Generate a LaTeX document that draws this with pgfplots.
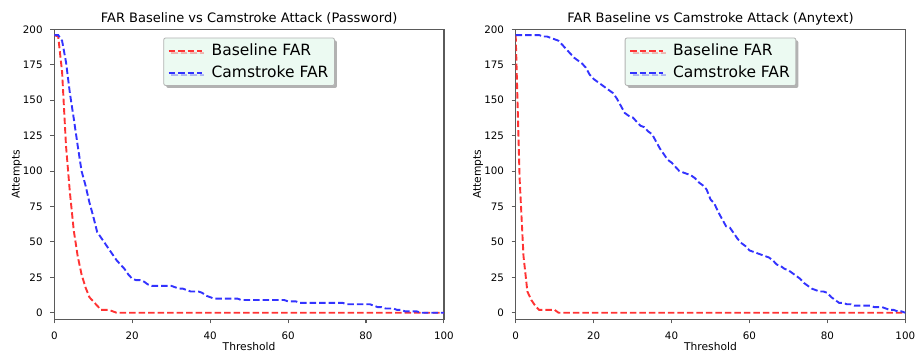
\documentclass[border=0pt]{standalone}
\usepackage{fontspec}
\setmainfont{DejaVu Sans}
\usepackage{pgfplots}
\pgfplotsset{compat=1.18}
\usetikzlibrary{shadows}
\definecolor{farred}{RGB}{255,51,51}
\definecolor{farblue}{RGB}{51,51,255}
\definecolor{legbg}{RGB}{236,250,242}
\definecolor{spine}{RGB}{90,90,90}

\pgfplotstableread{
t base cam
0 196 196
1 195 196
2 170 192
3 118 177
4 85 155
5 58 137
6 40 118
7 27 100
8 18 90
9 11 78
10 8 68
11 5 57
12 2 53
13 2 49
14 2 45
15 1 41
16 0 37
17 0 34
18 0 31
19 0 27
20 0 24
21 0 23
22 0 23
23 0 22
24 0 20
25 0 19
26 0 19
27 0 19
28 0 19
29 0 19
30 0 19
31 0 18
32 0 17
33 0 17
34 0 16
35 0 15
36 0 15
37 0 15
38 0 14
39 0 12
40 0 11
41 0 10
42 0 10
43 0 10
44 0 10
45 0 10
46 0 10
47 0 10
48 0 9
49 0 9
50 0 9
51 0 9
52 0 9
53 0 9
54 0 9
55 0 9
56 0 9
57 0 9
58 0 9
59 0 9
60 0 8
61 0 8
62 0 8
63 0 7
64 0 7
65 0 7
66 0 7
67 0 7
68 0 7
69 0 7
70 0 7
71 0 7
72 0 7
73 0 7
74 0 7
75 0 6
76 0 6
77 0 6
78 0 6
79 0 6
80 0 6
81 0 6
82 0 5
83 0 4
84 0 4
85 0 3
86 0 3
87 0 3
88 0 2
89 0 2
90 0 1
91 0 1
92 0 1
93 0 1
94 0 0
95 0 0
96 0 0
97 0 0
98 0 0
99 0 0
100 0 0
}\passworddata

\pgfplotstableread{
t base cam
0 196 196
1 95 196
2 40 196
3 15 196
4 9 196
5 5 196
6 2 196
7 2 195
8 2 195
9 2 194
10 2 193
11 0 192
12 0 189
13 0 186
14 0 183
15 0 180
16 0 178
17 0 176
18 0 173
19 0 168
20 0 165
21 0 163
22 0 161
23 0 159
24 0 157
25 0 155
26 0 151
27 0 146
28 0 141
29 0 139
30 0 138
31 0 135
32 0 132
33 0 131
34 0 128
35 0 126
36 0 121
37 0 116
38 0 112
39 0 108
40 0 106
41 0 103
42 0 100
43 0 99
44 0 98
45 0 97
46 0 95
47 0 92
48 0 90
49 0 87
50 0 80
51 0 77
52 0 71
53 0 66
54 0 61
55 0 60
56 0 56
57 0 52
58 0 49
59 0 47
60 0 44
61 0 43
62 0 42
63 0 41
64 0 40
65 0 39
66 0 37
67 0 34
68 0 33
69 0 31
70 0 30
71 0 28
72 0 26
73 0 24
74 0 21
75 0 19
76 0 17
77 0 16
78 0 15
79 0 15
80 0 14
81 0 11
82 0 9
83 0 7
84 0 7
85 0 6
86 0 6
87 0 5
88 0 5
89 0 5
90 0 5
91 0 5
92 0 4
93 0 4
94 0 4
95 0 3
96 0 2
97 0 2
98 0 1
99 0 1
100 0 0
}\anytextdata

\pgfplotsset{
  farstyle/.style={
    width=389.6pt, height=290pt, scale only axis,
    xmin=0, xmax=100, ymin=-4.7, ymax=200,
    xtick={0,20,...,100}, ytick={0,25,...,200},
    tick align=outside, major tick length=4pt, tick pos=left,
    axis line style={spine, line width=1.3pt},
    every tick/.style={spine, line width=1.1pt},
    /pgf/number format/assume math mode=true,
    tick label style={font=\fontsize{10.3}{12}\selectfont},
    yticklabel style={anchor=east, xshift=-4.2pt},
    xticklabel style={anchor=north, yshift=-5.2pt},
    every axis x label/.style={at={(axis description cs:0.5,-0.1083)}, anchor=base, font=\fontsize{10.7}{13}\selectfont},
    every axis y label/.style={at={(axis description cs:-0.0893,0.5)}, rotate=90, anchor=base, font=\fontsize{10.7}{13}\selectfont},
    every axis title/.style={at={(axis description cs:0.5,1.0228)}, anchor=base, font=\fontsize{13}{15}\selectfont},
    xlabel={Threshold}, ylabel={Attempts},
    legend style={at={(0.5,0.972)}, anchor=north, fill=legbg, draw=gray!60, line width=0.8pt,
      rounded corners=2pt,
      drop shadow={shadow xshift=2.5pt, shadow yshift=-2.5pt, fill=black, opacity=0.3},
      font=\fontsize{15.5}{18}\selectfont, row sep=5pt, inner xsep=4pt, inner ysep=4pt,
      /tikz/every odd column/.append style={column sep=7pt}},
    legend cell align=left,
    legend image code/.code={\draw[#1] (0pt,0pt) -- (33pt,0pt);},
    every axis plot/.append style={line width=1.9pt, dash pattern=on 6.5pt off 3pt},
  }
}

\begin{document}
\begin{tikzpicture}
\begin{axis}[farstyle, at={(0pt,0pt)}, anchor=south west,
  title={FAR Baseline vs Camstroke Attack (Password)}]
\addplot[farred, line width=1.9pt, dash pattern=on 6.5pt off 3pt] table[x=t, y=base] {\passworddata};
\addlegendentry{Baseline FAR}
\addplot[farblue, line width=1.9pt, dash pattern=on 6.5pt off 3pt] table[x=t, y=cam] {\passworddata};
\addlegendentry{Camstroke FAR}
\end{axis}
\begin{axis}[farstyle, at={(461.4pt,0pt)}, anchor=south west,
  title={FAR Baseline vs Camstroke Attack (Anytext)}]
\addplot[farred, line width=1.9pt, dash pattern=on 6.5pt off 3pt] table[x=t, y=base] {\anytextdata};
\addlegendentry{Baseline FAR}
\addplot[farblue, line width=1.9pt, dash pattern=on 6.5pt off 3pt] table[x=t, y=cam] {\anytextdata};
\addlegendentry{Camstroke FAR}
\end{axis}
\pgfresetboundingbox
\path[use as bounding box] (-54.3pt,-34.6pt) rectangle (864.7pt,319.4pt);
\end{tikzpicture}
\end{document}
